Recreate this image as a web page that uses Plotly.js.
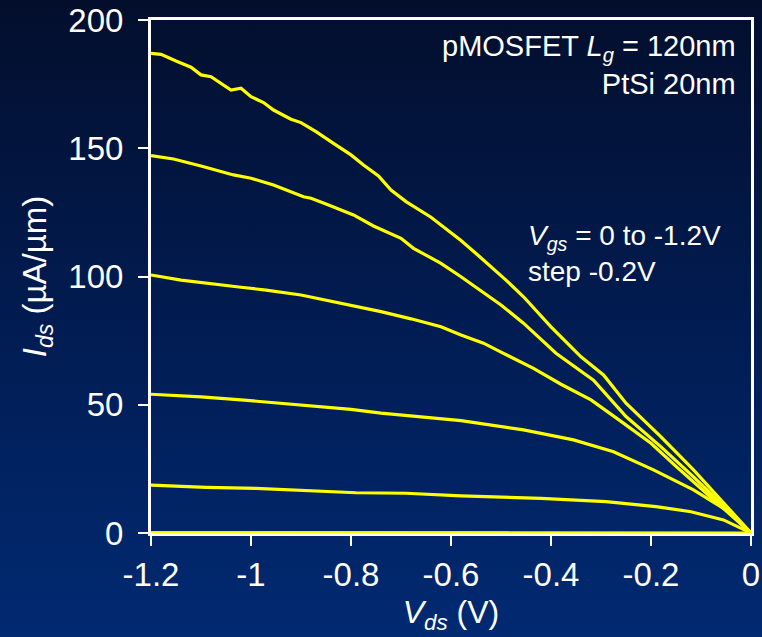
<!DOCTYPE html>
<html>
<head>
<meta charset="utf-8">
<script src="https://cdn.plot.ly/plotly-3.0.1.min.js"></script>
<style>
  html, body { margin: 0; padding: 0; }
  body { width: 762px; height: 637px; background: linear-gradient(to bottom, #030e2c 0%, #011d55 55%, #012a72 100%); }
  #chart { width: 762px; height: 637px; }
</style>
</head>
<body>
<div id="chart"></div>
<script>
// Vgs = -1.2 V
const vds_12 = [-1.2, -1.18, -1.15, -1.12, -1.10, -1.08, -1.04, -1.02, -1.0, -0.975, -0.955, -0.92, -0.90, -0.87, -0.835, -0.80, -0.775, -0.745, -0.72, -0.69, -0.64, -0.60, -0.58, -0.55, -0.52, -0.49, -0.455, -0.40, -0.34, -0.295, -0.25, -0.18, -0.115, -0.06, 0];
const ids_12 = [187, 186.6, 184, 181.6, 178.6, 177.9, 172.7, 173.4, 170.1, 167.8, 164.9, 161.3, 160, 156.5, 151.9, 147.4, 143.5, 139.2, 133.7, 129.2, 123.1, 117, 114, 109, 104, 98.6, 92.1, 80.4, 68.7, 61.6, 50.6, 37.5, 24.6, 13, 0];
// Vgs = -1.0 V
const vds_10 = [-1.2, -1.155, -1.10, -1.06, -1.035, -1.0, -0.955, -0.895, -0.88, -0.85, -0.795, -0.755, -0.70, -0.675, -0.62, -0.58, -0.50, -0.455, -0.39, -0.315, -0.25, -0.18, -0.115, -0.06, 0];
const ids_10 = [147.1, 145.8, 143.1, 141.1, 139.6, 138.3, 135.7, 131.1, 130.5, 128.3, 124, 119.7, 114.9, 111, 105.1, 99.9, 88.9, 81.8, 70.1, 59.6, 45.4, 33.6, 21.9, 11.5, 0];
// Vgs = -0.8 V
const vds_08 = [-1.2, -1.14, -1.02, -0.97, -0.90, -0.80, -0.74, -0.68, -0.62, -0.58, -0.535, -0.50, -0.435, -0.38, -0.32, -0.26, -0.20, -0.15, -0.09, -0.04, 0];
const ids_08 = [100.6, 98.6, 95.8, 94.7, 92.8, 88.9, 86.3, 83.5, 80.4, 77.2, 74, 70.5, 64.2, 58, 51.9, 43.5, 35, 26, 15.5, 7, 0];
// Vgs = -0.6 V
const vds_06 = [-1.2, -1.10, -1.02, -0.90, -0.80, -0.74, -0.62, -0.58, -0.455, -0.355, -0.275, -0.195, -0.115, -0.05, 0];
const ids_06 = [54.1, 53.1, 51.9, 49.9, 48.2, 46.7, 44.7, 43.8, 40.2, 36.3, 31.7, 24.6, 16.8, 9, 0];
// Vgs = -0.4 V
const vds_04 = [-1.2, -1.09, -0.99, -0.89, -0.79, -0.69, -0.58, -0.42, -0.29, -0.19, -0.12, -0.055, 0];
const ids_04 = [18.7, 17.8, 17.4, 16.5, 15.7, 15.5, 14.5, 13.5, 12.2, 10.3, 8.3, 5.1, 0];
// Vgs = -0.2 V and 0 V
const vds_02 = [-1.2, -0.8, -0.4, -0.2, 0];
const ids_02 = [0.1, 0.1, 0.1, 0.05, 0];
const vds_00 = [-1.2, -0.6, 0];
const ids_00 = [0.02, 0.02, 0];

const xTicks = [-1.2, -1, -0.8, -0.6, -0.4, -0.2, 0];
const xTickText = ['-1.2', '-1', '-0.8', '-0.6', '-0.4', '-0.2', '0'];
const yTicks = [0, 50, 100, 150, 200];
const yTickText = ['0', '50', '100', '150', '200'];

const series = [
  [vds_00, ids_00], [vds_02, ids_02], [vds_04, ids_04], [vds_06, ids_06],
  [vds_08, ids_08], [vds_10, ids_10], [vds_12, ids_12]
];
const traces = series.map(s => ({
  x: s[0], y: s[1], type: 'scatter', mode: 'lines',
  line: {color: '#ffff00', width: 3.2}, hoverinfo: 'skip'
}));

const FONT = 'Liberation Sans, Arial, Helvetica, sans-serif';
const layout = {
  width: 762, height: 637,
  margin: {l: 151, r: 11, t: 20, b: 104},
  paper_bgcolor: 'rgba(0,0,0,0)',
  plot_bgcolor: 'rgba(0,0,0,0)',
  showlegend: false,
  font: {family: FONT, color: '#ffffff', size: 32},
  xaxis: {
    range: [-1.2, 0], tickvals: xTicks, ticktext: xTickText,
    showgrid: false, zeroline: false,
    showline: true, linecolor: '#ffffff', linewidth: 3, mirror: true,
    ticks: 'outside', ticklen: 10, tickwidth: 2, tickcolor: '#ffffff',
    tickfont: {family: FONT, size: 33, color: '#ffffff'},
    title: {text: '<i>V</i><sub><i>ds</i></sub> (V)', font: {family: FONT, size: 32, color: '#ffffff'}, standoff: 10}
  },
  yaxis: {
    range: [0, 200], tickvals: yTicks, ticktext: yTickText,
    showgrid: false, zeroline: false,
    showline: true, linecolor: '#ffffff', linewidth: 3, mirror: true,
    ticks: 'outside', ticklen: 10, tickwidth: 2, tickcolor: '#ffffff',
    ticklabelstandoff: 8,
    tickfont: {family: FONT, size: 33, color: '#ffffff'},
    title: {text: '<i>I</i><sub><i>ds</i></sub> (µA/µm)', font: {family: FONT, size: 33, color: '#ffffff'}, standoff: 12}
  },
  annotations: [
    {xref: 'paper', yref: 'paper', x: 0.978, y: 0.985, xanchor: 'right', yanchor: 'top', align: 'right', showarrow: false,
     text: 'pMOSFET <i>L</i><sub><i>g</i></sub> = 120nm<br>PtSi 20nm', font: {family: FONT, size: 29, color: '#ffffff'}},
    {xref: 'paper', yref: 'paper', x: 0.625, y: 0.615, xanchor: 'left', yanchor: 'top', align: 'left', showarrow: false,
     text: '<i>V</i><sub><i>gs</i></sub> = 0 to -1.2V<br>step -0.2V', font: {family: FONT, size: 28, color: '#ffffff'}}
  ]
};

Plotly.newPlot('chart', traces, layout, {displayModeBar: false, staticPlot: true});
</script>
</body>
</html>
